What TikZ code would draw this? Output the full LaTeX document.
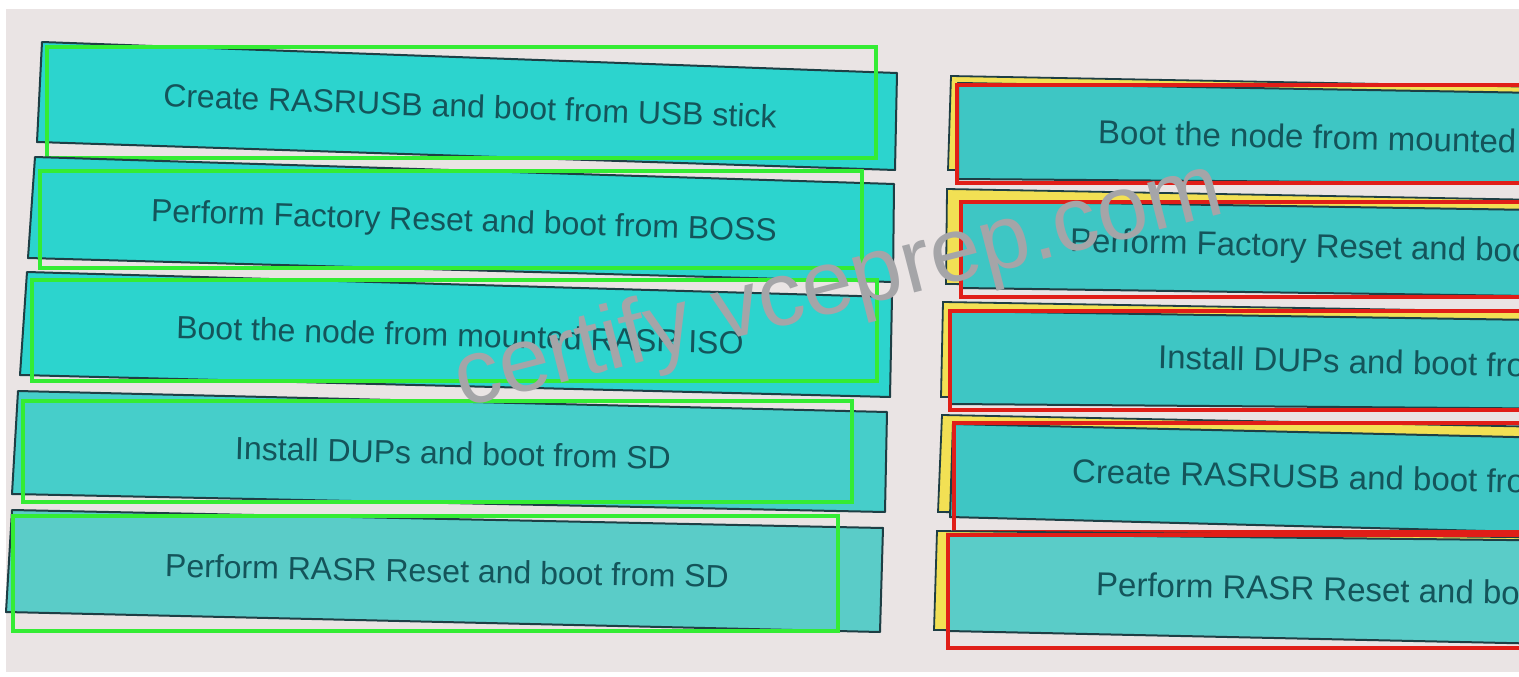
\documentclass[tikz,border=0pt]{standalone}
\usepackage{fontspec}
\setmainfont{Liberation Sans}
\definecolor{bgc}{RGB}{234,228,228}
\definecolor{tealA}{RGB}{44,212,206}
\definecolor{tealB}{RGB}{70,206,202}
\definecolor{tealC}{RGB}{90,204,200}
\definecolor{tealR}{RGB}{62,198,196}
\definecolor{txtc}{RGB}{20,84,90}
\definecolor{edgec}{RGB}{30,62,68}
\definecolor{grnc}{RGB}{52,236,52}
\definecolor{redc}{RGB}{224,30,24}
\definecolor{yelc}{RGB}{242,224,84}
\definecolor{wmc}{RGB}{165,165,168}
\tikzset{
  lbox/.style={draw=edgec, line width=2pt, line join=round},
  ybox/.style={draw=edgec, fill=yelc, line width=1.8pt},
  grnbox/.style={draw=grnc, line width=3.4pt},
  redbox/.style={draw=redc, line width=3.2pt},
  itemtext/.style={text=txtc, font=\fontsize{32}{36}\selectfont, inner sep=0pt, text height=22.8pt, text depth=0pt},
  rtext/.style={itemtext, font=\fontsize{33}{37}\selectfont, text height=23.5pt, anchor=west},
  wmark/.style={text=wmc, font=\fontsize{91}{100}\selectfont, inner sep=0pt}
}
\begin{document}
\begin{tikzpicture}[x=1pt,y=-1pt]
\useasboundingbox (0,0) rectangle (1519,677);
\clip (0,0) rectangle (1519,677);
\fill[white] (0,0) rectangle (1519,677);
\fill[bgc] (6,9) rectangle (1519,672);

% ---------- left column ----------
\filldraw[lbox, fill=tealA] (42,42) -- (897,73) -- (895,170) -- (37,142) -- cycle;
\node[itemtext, rotate=-2] (L1) at (470,106) {Create RASRUSB and boot from USB stick};
\draw[grnbox] (47,47) rectangle (876,158);

\filldraw[lbox, fill=tealA] (35,157) -- (894,184) -- (893,282) -- (28,258) -- cycle;
\node[itemtext, rotate=-1.8] (L2) at (464,220) {Perform Factory Reset and boot from BOSS};
\draw[grnbox] (40,171) rectangle (862,268);

\filldraw[lbox, fill=tealA] (27,272) -- (892,297) -- (890,397) -- (20,375) -- cycle;
\node[itemtext, rotate=-1.6] (L3) at (460,335) {Boot the node from mounted RASR ISO};
\draw[grnbox] (32,280) rectangle (877,381);

\filldraw[lbox, fill=tealB] (18,391) -- (887,412) -- (885,512) -- (12,494) -- cycle;
\node[itemtext, rotate=-1.3] (L4) at (453,453) {Install DUPs and boot from SD};
\draw[grnbox] (23,401) rectangle (852,502);

\filldraw[lbox, fill=tealC] (12,510) -- (883,528) -- (880,632) -- (6,612) -- cycle;
\node[itemtext, rotate=-1.1] (L5) at (447,571) {Perform RASR Reset and boot from SD};
\draw[grnbox] (13,516) rectangle (838,631);

% ---------- right column ----------
\filldraw[ybox] (951,76) -- (1600,88) -- (1600,176) -- (948,170) -- cycle;
\filldraw[lbox, fill=tealR] (958,83) -- (1600,94) -- (1600,184) -- (958,179) -- cycle;
\node[rtext, rotate=-1.3] (R1) at (1098,132) {Boot the node from mounted RASR ISO};
\draw[redbox] (957,85) rectangle (1540,183);

\filldraw[ybox] (947,189) -- (1600,201) -- (1600,290) -- (946,284) -- cycle;
\filldraw[lbox, fill=tealR] (962,201) -- (1600,211) -- (1600,297) -- (961,288) -- cycle;
\node[rtext, rotate=-1.3] (R2) at (1070,240) {Perform Factory Reset and boot from BOSS};
\draw[redbox] (961,202) rectangle (1540,297);

\filldraw[ybox] (943,302) -- (1600,313) -- (1600,402) -- (941,397) -- cycle;
\filldraw[lbox, fill=tealR] (950,311) -- (1600,321) -- (1600,409) -- (950,404) -- cycle;
\node[rtext, rotate=-1.3] (R3) at (1158,357) {Install DUPs and boot from SD};
\draw[redbox] (950,311) rectangle (1540,410);

\filldraw[ybox] (942,415) -- (1600,428) -- (1600,520) -- (938,512) -- cycle;
\filldraw[lbox, fill=tealR] (953,424) -- (1600,439) -- (1600,534) -- (950,517) -- cycle;
\node[rtext, rotate=-1.3] (R4) at (1072,471) {Create RASRUSB and boot from USB stick};
\draw[redbox] (954,423) rectangle (1540,532);

\filldraw[ybox] (937,531) -- (1600,538) -- (1600,636) -- (934,630) -- cycle;
\filldraw[lbox, fill=tealC] (948,534) -- (1600,541) -- (1600,645) -- (948,631) -- cycle;
\node[rtext, rotate=-1.2] (R5) at (1096,584) {Perform RASR Reset and boot from SD};
\draw[redbox] (948,535) rectangle (1540,648);

% ---------- watermark ----------
\node[wmark, rotate=14.3, anchor=base west] (wm) at (462,408) {certify vceprep.com};
\end{tikzpicture}
\end{document}
